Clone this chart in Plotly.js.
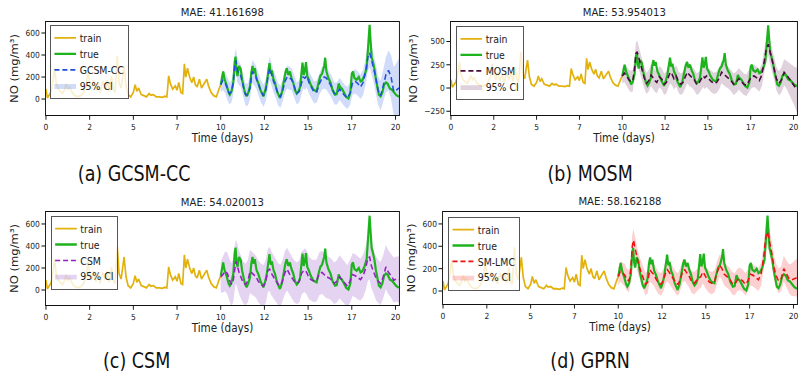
<!DOCTYPE html>
<html>
<head>
<meta charset="utf-8">
<script src="https://cdn.plot.ly/plotly-3.0.1.min.js"></script>
<style>
  html, body { margin: 0; padding: 0; background: #fff; overflow: hidden; }
  #wrap { width: 801px; height: 378px; overflow: hidden; }
  #chart { width: 1112px; height: 472px; transform: scale(0.7203, 0.8008); transform-origin: 0 0; }
</style>
</head>
<body>
<div id="wrap"><div id="chart"></div></div>
<script>
// ---------------- data ----------------
const trainDays = [0.00,0.08,0.2,0.3,0.42,0.5,0.58,0.7,0.82,0.95,1.05,1.15,1.25,1.35,1.5,1.62,1.8,2.0,2.15,2.3,2.4,2.5,2.62,2.72,2.85,3.0,3.1,3.25,3.4,3.5,3.62,3.75,3.85,3.95,4.08,4.18,4.3,4.47,4.58,4.7,4.85,5.0,5.1,5.2,5.3,5.45,5.6,5.75,5.9,6.0,6.15,6.3,6.5,6.65,6.8,6.92,7.02,7.12,7.25,7.4,7.5,7.6,7.72,7.82,7.92,8.0,8.1,8.22,8.35,8.45,8.55,8.65,8.78,8.9,9.05,9.2,9.3,9.45,9.6,9.75,9.88,10.0];
const trainVals = [90,10,40,70,180,280,150,90,70,50,80,140,90,110,60,35,20,30,60,120,260,150,90,170,80,140,60,160,90,170,70,210,90,60,390,150,100,300,120,40,20,60,130,70,100,40,30,20,50,35,40,20,20,15,25,20,210,140,90,120,80,150,60,50,320,200,280,200,150,200,130,110,180,100,140,180,120,60,30,20,80,130];

const testDays = [10.00,10.07,10.14,10.22,10.33,10.45,10.52,10.62,10.72,10.80,10.85,10.91,10.96,11.05,11.15,11.22,11.29,11.38,11.48,11.58,11.67,11.75,11.82,11.88,11.95,12.05,12.15,12.28,12.44,12.55,12.63,12.72,12.79,12.86,12.93,13.02,13.10,13.22,13.39,13.50,13.62,13.70,13.78,13.86,13.96,14.05,14.15,14.25,14.35,14.45,14.54,14.62,14.68,14.75,14.82,14.88,14.95,15.05,15.15,15.30,15.40,15.49,15.60,15.70,15.80,15.92,15.98,16.05,16.16,16.28,16.40,16.54,16.64,16.75,16.83,16.95,17.05,17.18,17.31,17.42,17.50,17.57,17.65,17.78,17.90,18.00,18.10,18.22,18.35,18.45,18.52,18.58,18.64,18.72,18.80,18.88,18.96,19.05,19.15,19.25,19.35,19.45,19.55,19.68,19.80,19.92,20.05,20.20];
const trueVals = [130,200,250,180,130,60,40,70,150,340,385,250,210,300,270,180,130,60,25,60,110,240,300,240,280,180,145,80,25,80,140,250,325,230,260,180,150,70,10,60,180,240,280,220,250,190,150,80,50,70,110,250,330,220,260,335,210,175,130,85,75,70,150,210,230,300,375,250,190,150,80,40,45,140,110,90,60,20,5,60,230,250,190,175,200,160,170,210,280,500,675,520,380,330,270,180,100,40,25,60,130,150,140,95,85,60,35,20];

const predDays = [10.0,10.12,10.25,10.38,10.5,10.62,10.72,10.8,10.87,10.95,11.05,11.15,11.28,11.42,11.55,11.68,11.8,11.9,12.02,12.15,12.3,12.45,12.58,12.7,12.8,12.9,13.02,13.15,13.3,13.42,13.55,13.68,13.8,13.92,14.05,14.2,14.35,14.5,14.62,14.72,14.82,14.92,15.05,15.2,15.35,15.5,15.65,15.8,15.92,16.05,16.2,16.35,16.5,16.65,16.8,16.95,17.1,17.25,17.4,17.55,17.7,17.85,18.0,18.15,18.3,18.42,18.52,18.62,18.75,18.88,19.0,19.15,19.3,19.45,19.6,19.75,19.9,20.05,20.2];

const gcsmMean = [130,170,150,90,50,70,150,300,350,260,230,210,120,40,40,100,250,230,200,140,70,30,80,200,280,230,160,110,40,20,80,160,200,190,180,120,50,70,150,200,190,210,150,100,60,70,140,190,200,190,150,110,50,50,90,60,30,10,50,150,160,140,110,150,260,380,420,360,280,190,80,30,120,220,260,200,70,80,100];
const gcsmHalf = [70,85,95,100,100,100,105,110,110,110,105,100,100,100,100,100,105,105,100,100,100,100,100,105,105,105,100,100,100,100,100,100,105,105,100,100,100,100,105,105,105,105,100,100,100,100,100,105,105,105,100,100,100,100,100,100,100,100,105,110,110,110,110,115,120,125,130,130,130,130,130,135,145,160,180,200,220,245,270];

const mosmMean = [130,160,130,90,70,80,220,370,390,330,260,200,110,50,80,140,110,80,60,120,100,40,60,130,170,150,100,130,60,40,60,120,170,140,120,90,40,60,100,130,110,130,100,70,50,60,100,170,150,130,110,80,40,60,100,70,40,30,80,120,130,110,80,140,300,430,470,400,300,200,100,50,90,170,140,100,60,20,-20];
const mosmHalf = [80,95,105,110,115,115,120,120,120,120,120,115,115,115,115,115,120,120,115,115,115,115,115,120,120,120,115,115,115,115,115,115,120,120,115,115,115,115,120,120,120,120,115,115,115,115,115,120,120,120,115,115,115,115,115,115,115,115,120,120,120,120,120,120,125,125,125,125,125,125,125,130,135,140,150,170,190,210,240];

const csmMean = [120,140,170,150,90,50,90,200,260,220,160,120,70,50,80,170,150,140,120,80,50,35,80,180,190,150,120,90,50,40,90,160,190,150,120,80,60,80,150,170,180,160,110,90,80,90,150,160,140,120,110,90,60,80,120,90,60,35,80,140,130,110,95,130,200,290,300,220,170,110,80,60,120,210,160,130,90,100,95];
const csmHalf = [140,165,180,190,190,195,195,200,200,200,195,195,190,190,190,195,195,195,190,190,190,190,195,195,200,200,195,190,190,190,190,195,195,195,190,190,190,190,195,195,200,200,195,190,190,190,195,195,195,195,190,190,190,190,195,195,190,190,195,195,195,195,190,195,200,205,205,205,200,200,195,195,195,200,200,200,205,205,210];

const lmcMean = [130,175,160,140,100,90,200,400,455,390,300,240,180,120,60,80,190,170,150,110,70,60,100,160,190,170,140,110,70,60,110,180,190,160,130,80,70,100,120,130,170,150,110,80,70,90,170,230,200,150,130,110,70,60,100,110,90,60,90,150,140,120,100,150,300,480,530,450,350,220,140,90,110,200,150,110,100,110,120];
const lmcHalf = [80,90,95,100,100,100,100,100,100,100,100,100,100,100,100,100,100,100,100,100,100,100,100,100,100,100,100,100,100,100,100,100,100,100,100,100,100,100,100,100,100,100,100,100,100,100,100,100,100,100,100,100,100,100,100,100,100,100,100,100,100,100,100,105,105,110,110,110,110,110,110,110,110,115,120,130,145,160,170];

const models = ["GCSM-CC", "MOSM", "CSM", "SM-LMC"];
const maeTexts = ["MAE: 41.161698", "MAE: 53.954013", "MAE: 54.020013", "MAE: 58.162188"];
const captions = ["(a) GCSM-CC", "(b) MOSM", "(c) CSM", "(d) GPRN"];
const xTickVals = [0, 2.5, 5, 7.5, 10, 12.5, 15, 17.5, 20];
const xTickText = ["0", "2", "5", "7", "10", "12", "15", "17", "20"];
const yTicksMain = [0, 200, 400, 600];
const yTicksMosm = [-250, 0, 250, 500];
const xTitle = "Time (days)";
const yTitle = "NO (mg/m³)";

// ---------------- styling ----------------
const means = [gcsmMean, mosmMean, csmMean, lmcMean];
const halves = [gcsmHalf, mosmHalf, csmHalf, lmcHalf];
const meanColors = ["#1f4fdc", "#4a0c3c", "#9420c0", "#ee1111"];
const bandColors = ["rgba(100,140,235,0.30)", "rgba(110,50,95,0.22)", "rgba(165,110,210,0.30)", "rgba(245,120,120,0.35)"];
const trainColor = "#e2b10c";
const trueColor = "#1db31d";
const TXT = "#222";
const FONT = "DejaVu Sans, sans-serif";

const xDomains = [[0.0574, 0.4981], [0.5630, 0.9950], [0.0574, 0.4981], [0.5531, 0.9950]];
const yDomains = [[0.6958, 0.9418], [0.6958, 0.9418], [0.1931, 0.4392], [0.1958, 0.4392]];
const yRanges = [[-145, 700], [-290, 710], [-136, 709], [-116, 707]];
const legendPos = [[0.0624, 0.9339], [0.5693, 0.9312], [0.0633, 0.4294], [0.5594, 0.4268]];
const titlePos = [[0.2778, 0.968], [0.7790, 0.968], [0.2778, 0.4664], [0.7740, 0.4680]];
const captionPos = [[0.167, 0.5423], [0.7366, 0.5423], [0.170, 0.0476], [0.7366, 0.0476]];

const traces = [];
const layout = {
  width: 1112, height: 472,
  margin: {l: 0, r: 0, t: 0, b: 0},
  paper_bgcolor: "#fff", plot_bgcolor: "#fff",
  font: {family: FONT, color: TXT, size: 12},
  showlegend: true,
  annotations: []
};

for (let i = 0; i < 4; i++) {
  const sfx = i === 0 ? "" : String(i + 1);
  const xa = "x" + sfx, ya = "y" + sfx;
  const lg = i === 0 ? "legend" : "legend" + (i + 1);
  const upper = means[i].map((m, k) => m + halves[i][k]);
  const lower = means[i].map((m, k) => m - halves[i][k]);
  traces.push({
    x: predDays.concat(predDays.slice().reverse()),
    y: upper.concat(lower.slice().reverse()),
    xaxis: xa, yaxis: ya, legend: lg, legendrank: 4,
    type: "scatter", mode: "lines", fill: "toself",
    fillcolor: bandColors[i], line: {width: 0, color: bandColors[i]},
    name: "95% CI", hoverinfo: "skip"
  });
  traces.push({
    x: trainDays, y: trainVals, xaxis: xa, yaxis: ya, legend: lg, legendrank: 1,
    type: "scatter", mode: "lines", line: {color: trainColor, width: 2.3}, name: "train"
  });
  traces.push({
    x: testDays, y: trueVals, xaxis: xa, yaxis: ya, legend: lg, legendrank: 2,
    type: "scatter", mode: "lines", line: {color: trueColor, width: 3.0}, name: "true"
  });
  traces.push({
    x: predDays, y: means[i], xaxis: xa, yaxis: ya, legend: lg, legendrank: 3,
    type: "scatter", mode: "lines", line: {color: meanColors[i], width: 2.1, dash: "7px,4px"}, name: models[i]
  });

  layout["xaxis" + sfx] = {
    domain: xDomains[i], anchor: ya, range: [0, 20.2],
    tickmode: "array", tickvals: xTickVals, ticktext: xTickText,
    showline: true, mirror: true, linecolor: "#111", linewidth: 1.3,
    ticks: "outside", ticklen: 4.5, tickwidth: 1.3, tickcolor: "#111",
    showgrid: false, zeroline: false,
    tickfont: {family: FONT, size: 10.5, color: TXT},
    title: {text: xTitle, font: {family: FONT, size: 14.5, color: TXT}, standoff: 4}
  };
  layout["yaxis" + sfx] = {
    domain: yDomains[i], anchor: xa, range: yRanges[i],
    tickmode: "array", tickvals: i === 1 ? yTicksMosm : yTicksMain,
    showline: true, mirror: true, linecolor: "#111", linewidth: 1.3,
    ticks: "outside", ticklen: 5, tickwidth: 1.3, tickcolor: "#111",
    showgrid: false, zeroline: false,
    tickfont: {family: FONT, size: 10.5, color: TXT},
    title: {text: yTitle, font: {family: FONT, size: 14.5, color: TXT}, standoff: 6}
  };
  layout[lg] = {
    x: legendPos[i][0], y: legendPos[i][1], xref: "paper", yref: "paper",
    xanchor: "left", yanchor: "top",
    bgcolor: "rgba(255,255,255,0.8)", bordercolor: "#444", borderwidth: 1.2,
    font: {family: FONT, size: 13, color: TXT},
    tracegroupgap: 0, itemwidth: 30
  };
  layout.annotations.push({
    text: maeTexts[i], xref: "paper", yref: "paper",
    x: titlePos[i][0], y: titlePos[i][1], xanchor: "center", yanchor: "middle",
    showarrow: false, font: {family: FONT, size: 14, color: TXT}
  });
  layout.annotations.push({
    text: captions[i], xref: "paper", yref: "paper",
    x: captionPos[i][0], y: captionPos[i][1], xanchor: "center", yanchor: "middle",
    showarrow: false, font: {family: "DejaVu Sans Condensed, DejaVu Sans, sans-serif", size: 27, color: "#111"}
  });
}

Plotly.newPlot("chart", traces, layout, {staticPlot: true, displayModeBar: false});
</script>
</body>
</html>
